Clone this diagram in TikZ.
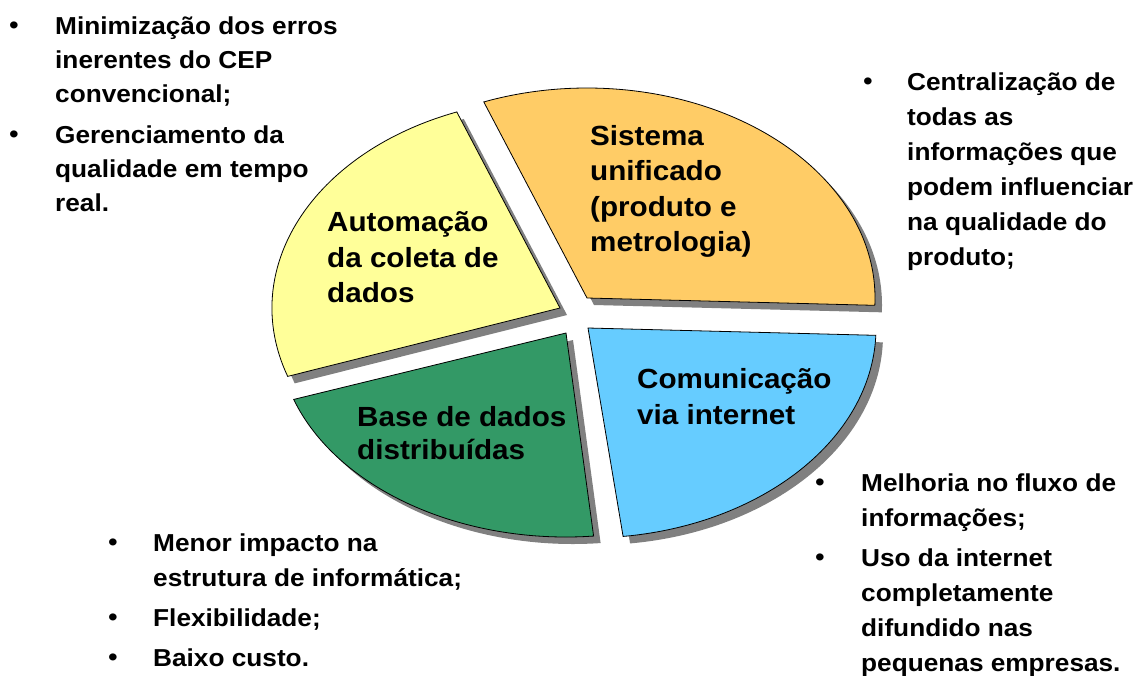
\documentclass[tikz,border=0pt]{standalone}
\usepackage{fontspec}
\setmainfont{Liberation Sans}[FakeStretch=1.07]
\definecolor{pieyellow}{HTML}{FFFF99}
\definecolor{pieorange}{HTML}{FFCC66}
\definecolor{piegreen}{HTML}{339966}
\definecolor{pieblue}{HTML}{66CCFF}
\definecolor{shadowgray}{HTML}{808080}
\newcommand{\mystrut}{\rule{0pt}{24.5pt}}
\newcommand{\bigstrut}{\rule{0pt}{27.7pt}}
\begin{document}
\begin{tikzpicture}[x=1pt,y=1pt,
  txt/.style={anchor=north west, inner sep=0pt, align=left, font=\fontsize{24.5}{35}\selectfont\bfseries},
  txtb/.style={txt, font=\fontsize{24.5}{34.2}\selectfont\bfseries},
  lbl/.style={txt, font=\fontsize{27.7}{35.5}\selectfont\bfseries},
  bul/.style={anchor=base, inner sep=0pt, font=\fontsize{24.5}{35}\selectfont\bfseries},
  slicebox/.style={draw=black, line width=0.8pt},
  shade/.style={fill=shadowgray}]
\useasboundingbox (0,0) rectangle (1137,-675);
\fill[white] (0,0) rectangle (1137,-675);
\coordinate (cO) at (587,-298);
\coordinate (cY) at (560,-308);
\coordinate (cG) at (566,-333);
\coordinate (cB) at (588,-328);
% shadows
\fill[shade] ([shift={(7,-7)}]cO) -- ++(-2:288pt and 210pt) arc[start angle=-2, end angle=111, x radius=288pt, y radius=210pt] -- cycle;
\fill[shade] ([shift={(7,-7)}]cY) -- ++(111:288pt and 210pt) arc[start angle=111, end angle=199, x radius=288pt, y radius=210pt] -- cycle;
\fill[shade] ([shift={(7,-7)}]cG) -- ++(199:288pt and 204pt) arc[start angle=199, end angle=275.5, x radius=288pt, y radius=204pt] -- cycle;
\fill[shade] ([shift={(7,-7)}]cB) -- ++(277:288pt and 210pt) arc[start angle=277, end angle=358, x radius=288pt, y radius=210pt] -- cycle;
% slices
\filldraw[slicebox, fill=pieorange] (cO) -- ++(-2:288pt and 210pt) arc[start angle=-2, end angle=111, x radius=288pt, y radius=210pt] -- cycle;
\filldraw[slicebox, fill=pieyellow] (cY) -- ++(111:288pt and 210pt) arc[start angle=111, end angle=199, x radius=288pt, y radius=210pt] -- cycle;
\filldraw[slicebox, fill=piegreen] (cG) -- ++(199:288pt and 204pt) arc[start angle=199, end angle=275.5, x radius=288pt, y radius=204pt] -- cycle;
\filldraw[slicebox, fill=pieblue] (cB) -- ++(277:288pt and 210pt) arc[start angle=277, end angle=358, x radius=288pt, y radius=210pt] -- cycle;
% slice labels
\node[lbl] (lA) at (327,-204) {\bigstrut Automação\\da coleta de\\dados};
\node[lbl] (lS) at (590,-117.3) {\bigstrut Sistema\\unificado\\(produto e\\metrologia)};
\node[lbl, font=\fontsize{27.7}{33.5}\selectfont\bfseries] (lB) at (357,-398.3) {\bigstrut Base de dados\\distribuídas};
\node[lbl] (lC) at (637,-360.6) {\bigstrut Comunicação\\via internet};
% top-left bullets
\node[bul] (b1) at (14,-33) {•};
\node[txtb] (t1) at (55,-9.8) {\mystrut Minimização dos erros\\inerentes do CEP\\convencional;};
\node[bul] (b2) at (14,-142) {•};
\node[txtb] (t2) at (55,-118.8) {\mystrut Gerenciamento da\\qualidade em tempo\\real.};
% top-right bullets
\node[bul] (b3) at (868,-89) {•};
\node[txt] (t3) at (907,-65.5) {\mystrut Centralização de\\todas as\\informações que\\podem influenciar\\na qualidade do\\produto;};
% bottom-left bullets
\node[bul] (b4) at (113,-550.7) {•};
\node[txt] (t4) at (153,-527.2) {\mystrut Menor impacto na\\estrutura de informática;};
\node[bul] (b5) at (113,-625.7) {•};
\node[txt] (t5) at (153,-602.2) {\mystrut Flexibilidade;};
\node[bul] (b6) at (113,-665.7) {•};
\node[txt] (t6) at (153,-642.2) {\mystrut Baixo custo.};
% bottom-right bullets
\node[bul] (b7) at (820,-490.7) {•};
\node[txt] (t7) at (861,-467.2) {\mystrut Melhoria no fluxo de\\informações;};
\node[bul] (b8) at (820,-565.7) {•};
\node[txt] (t8) at (861,-542.2) {\mystrut Uso da internet\\completamente\\difundido nas\\pequenas empresas.};
\end{tikzpicture}
\end{document}
